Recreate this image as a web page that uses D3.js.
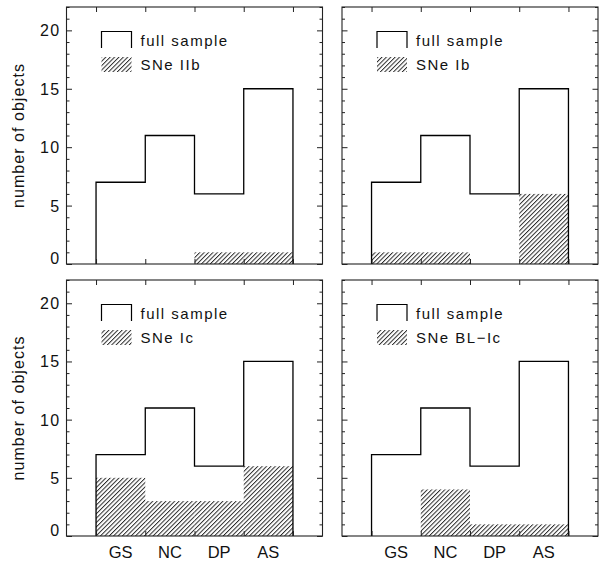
<!DOCTYPE html>
<html>
<head>
<meta charset="utf-8">
<script src="https://cdn.jsdelivr.net/npm/d3@7"></script>
<style>
  html, body { margin: 0; padding: 0; background: #fff; }
  svg { display: block; }
  text { font-family: "Liberation Sans", Arial, sans-serif; fill: #111; }
</style>
</head>
<body>
<svg id="chart" width="601" height="561"></svg>
<script>
// Host-galaxy environment classes
const categories = ["GS", "NC", "DP", "AS"];

// Counts for the full sample in each class
const fullSample = [7, 11, 6, 15];

// Counts for each supernova subtype
const snIIb = [0, 0, 1, 1];
const snIb = [1, 1, 0, 6];
const snIc = [5, 3, 3, 6];
const snBLIc = [0, 4, 1, 1];

const subtypeLabels = ["SNe IIb", "SNe Ib", "SNe Ic", "SNe BL\u2212Ic"];
const subtypeCounts = [snIIb, snIb, snIc, snBLIc];

// Y axis ticks
const yMajorTicks = [0, 5, 10, 15, 20];
const yMinorTicks = d3.range(0, 23);
const yMax = 22;

const svg = d3.select("#chart");

// Diagonal hatching used for the subtype histograms
const defs = svg.append("defs");
defs.append("pattern")
  .attr("id", "hatch")
  .attr("patternUnits", "userSpaceOnUse")
  .attr("width", 3.1)
  .attr("height", 3.1)
  .attr("patternTransform", "rotate(45)")
  .append("line")
  .attr("x1", 0.5).attr("y1", 0)
  .attr("x2", 0.5).attr("y2", 3.1)
  .attr("stroke", "#222")
  .attr("stroke-width", 0.95);

// Panel frames: columns and rows in pixels
const cols = [{ x0: 66.5, x1: 322.5 }, { x0: 342, x1: 598 }];
const rows = [{ y0: 7, y1: 264 }, { y0: 280, y1: 536 }];

subtypeLabels.forEach((label, i) => {
  const col = cols[i % 2];
  const row = rows[Math.floor(i / 2)];
  const isLeft = i % 2 === 0;
  const isBottom = i >= 2;
  const counts = subtypeCounts[i];

  const g = svg.append("g");

  // Category bands with outer padding; edges scale shares the same range
  const x = d3.scaleBand()
    .domain(categories)
    .range([col.x0, col.x1])
    .paddingInner(0)
    .paddingOuter(0.6);
  const xEdge = d3.scaleLinear()
    .domain([-0.6, categories.length + 0.6])
    .range([col.x0, col.x1]);
  const y = d3.scaleLinear().domain([0, yMax]).range([row.y1, row.y0]);

  // Hatched subtype histogram
  g.append("g")
    .selectAll("rect")
    .data(categories.map((c, k) => ({ c, v: counts[k] })).filter(d => d.v > 0))
    .join("rect")
    .attr("x", d => x(d.c))
    .attr("width", x.bandwidth())
    .attr("y", d => y(d.v))
    .attr("height", d => y(0) - y(d.v))
    .attr("fill", "url(#hatch)");

  // Full-sample histogram drawn as an open step outline
  const stepPts = [[x(categories[0]), y(0)]];
  categories.forEach((c, k) => {
    stepPts.push([x(c), y(fullSample[k])]);
    stepPts.push([x(c) + x.bandwidth(), y(fullSample[k])]);
  });
  stepPts.push([x(categories[categories.length - 1]) + x.bandwidth(), y(0)]);
  g.append("path")
    .attr("d", d3.line()(stepPts))
    .attr("fill", "none")
    .attr("stroke", "#000")
    .attr("stroke-width", 1.3);

  // Inward ticks on all four sides
  const edgeTicks = d3.range(0, categories.length + 1);
  const styleAxis = sel => {
    sel.select(".domain").remove();
    sel.selectAll(".tick line").attr("stroke", "#222").attr("stroke-width", 1);
  };
  g.append("g").attr("transform", `translate(0,${row.y0})`)
    .call(d3.axisTop(xEdge).tickValues(edgeTicks).tickSize(-5).tickFormat(""))
    .call(styleAxis);
  g.append("g").attr("transform", `translate(0,${row.y1})`)
    .call(d3.axisBottom(xEdge).tickValues(edgeTicks).tickSize(-5).tickFormat(""))
    .call(styleAxis);
  [[d3.axisLeft, col.x0], [d3.axisRight, col.x1]].forEach(([axisFn, px]) => {
    g.append("g").attr("transform", `translate(${px},0)`)
      .call(axisFn(y).tickValues(yMinorTicks.filter(v => !yMajorTicks.includes(v))).tickSize(-3).tickFormat(""))
      .call(styleAxis);
    g.append("g").attr("transform", `translate(${px},0)`)
      .call(axisFn(y).tickValues(yMajorTicks).tickSize(-5.5).tickFormat(""))
      .call(styleAxis);
  });

  // Frame
  g.append("rect")
    .attr("x", col.x0).attr("y", row.y0)
    .attr("width", col.x1 - col.x0).attr("height", row.y1 - row.y0)
    .attr("fill", "none").attr("stroke", "#222").attr("stroke-width", 1.1);

  // Y tick labels on the left column
  if (isLeft) {
    g.append("g").selectAll("text")
      .data(yMajorTicks)
      .join("text")
      .attr("x", col.x0 - 6)
      .attr("y", d => d === 0 ? y(d) - 0.5 : y(d) + 6)
      .attr("text-anchor", "end")
      .attr("font-size", 16)
      .attr("letter-spacing", 1.3)
      .text(d => d);

    g.append("text")
      .attr("transform", `translate(24,${(row.y0 + row.y1) / 2}) rotate(-90)`)
      .attr("text-anchor", "middle")
      .attr("font-size", 16)
      .attr("letter-spacing", 1.05)
      .text("number of objects");
  }

  // Category labels under the bottom row
  if (isBottom) {
    g.append("g").attr("transform", `translate(0,${row.y1})`)
      .call(d3.axisBottom(x).tickSize(0).tickPadding(10))
      .call(sel => {
        sel.select(".domain").remove();
        sel.selectAll("text")
          .attr("font-size", 16.5)
          .attr("font-family", "Liberation Sans, Arial, sans-serif")
          .attr("fill", "#111")
          .attr("dy", "0.75em");
      });
  }

  // Legend
  const lx = col.x0 + 35, lw = 30;
  g.append("path")
    .attr("d", `M${lx},${row.y0 + 41}V${row.y0 + 24.5}H${lx + lw}V${row.y0 + 41}`)
    .attr("fill", "none").attr("stroke", "#000").attr("stroke-width", 1.2);
  g.append("text")
    .attr("x", lx + 39).attr("y", row.y0 + 38.5)
    .attr("font-size", 15).attr("letter-spacing", 1.5)
    .text("full sample");
  g.append("rect")
    .attr("x", lx).attr("y", row.y0 + 50)
    .attr("width", lw).attr("height", 15)
    .attr("fill", "url(#hatch)");
  g.append("text")
    .attr("x", lx + 39).attr("y", row.y0 + 63)
    .attr("font-size", 15).attr("letter-spacing", 1.5)
    .text(label);
});
</script>
</body>
</html>
